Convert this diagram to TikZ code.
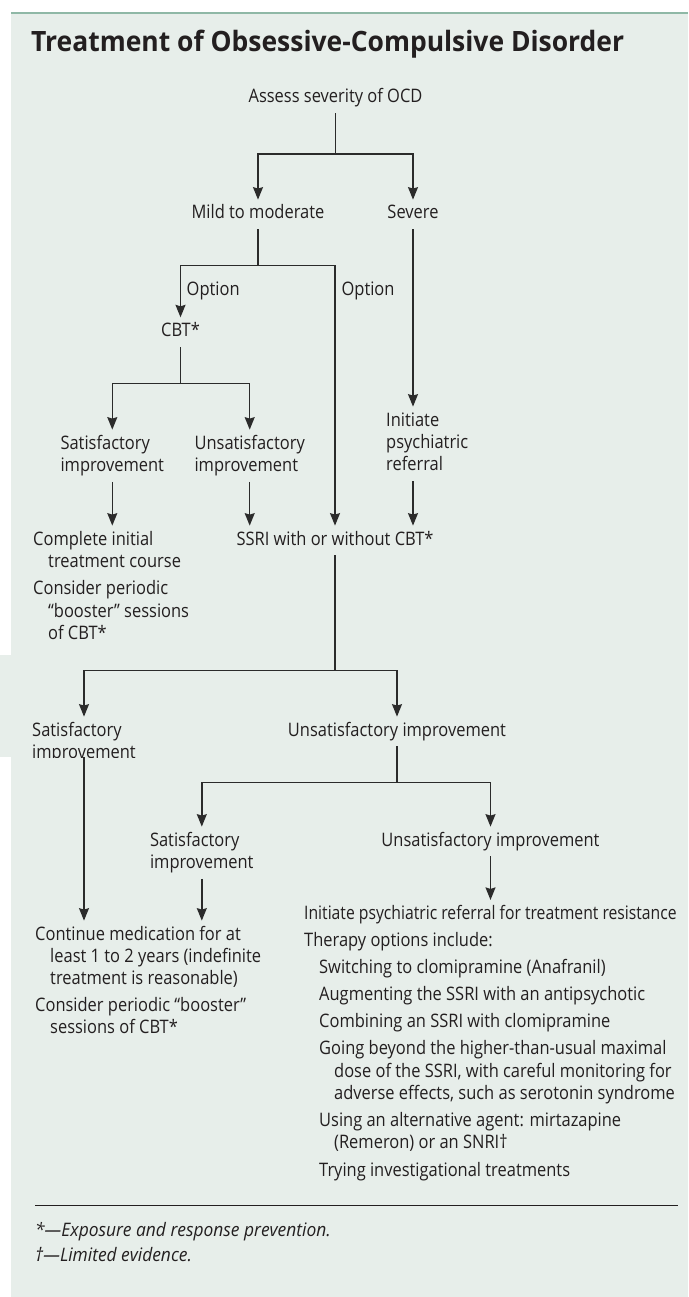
\documentclass[tikz,border=0pt]{standalone}
\usepackage{graphicx}
\usepackage{fontspec}
\setmainfont{Open Sans}[FakeStretch=0.885]
\newfontfamily\titlefont{Open Sans}[FakeStretch=0.945]
\newfontfamily\fnfont{Open Sans}[FakeStretch=0.935]
\usetikzlibrary{arrows.meta}
\definecolor{panel}{HTML}{E7EEEA}
\definecolor{topline}{HTML}{8FB8A6}
\definecolor{ink}{HTML}{231F20}
\definecolor{wire}{HTML}{2B2B2B}
\newcommand{\txtl}[1]{\begin{tabular}[t]{@{}l@{}}#1\end{tabular}}
\begin{document}
\begin{tikzpicture}[x=1pt,y=-1pt,
  txt/.style={inner xsep=0pt, inner ysep=3.5pt, text=ink, font=\fontsize{18.6}{22.4}\selectfont},
  wireline/.style={draw=wire, line width=1.4pt},
  arr/.style={wireline, -{Stealth[length=12.5pt,width=10pt,inset=1.5pt]}},
]
\useasboundingbox (0,0) rectangle (688,1297);
% panel
\fill[panel] (11,13.3) rectangle (688,1297);
\fill[panel] (0,655) rectangle (11,757);
\draw[topline, line width=2pt] (11,13.3) -- (688,13.3);

% title
\node[txt,anchor=base west,font=\titlefont\fontsize{28}{32}\selectfont\bfseries] (title) at (31,51.7) {Treatment of Obsessive-Compulsive Disorder};

% nodes
\node[txt,anchor=base] (assess) at (335.5,103) {\txtl{Assess severity of OCD}};
\node[txt,anchor=base] (mild) at (258,219) {\txtl{Mild to moderate}};
\node[txt,anchor=base] (severe) at (413,219) {\txtl{Severe}};
\node[txt,anchor=base west] (opt1) at (186.5,295) {\txtl{Option}};
\node[txt,anchor=base west] (opt2) at (341.4,295) {\txtl{Option}};
\node[txt,anchor=base] (cbt) at (180.5,336.7) {\txtl{CBT*}};
\node[txt,anchor=base] (sat1) at (112.3,449) {\txtl{Satisfactory\\improvement}};
\node[txt,anchor=base] (unsat1) at (249.7,449) {\txtl{Unsatisfactory\\improvement}};
\node[txt,anchor=base west] (init) at (386,426) {\txtl{Initiate\\psychiatric\\referral}};
\node[txt,anchor=base west] (complete) at (33,545) {\txtl{Complete initial\\\hspace*{15pt}treatment course\\[5pt]Consider periodic\\\hspace*{15pt}“booster” sessions\\\hspace*{15pt}of CBT*}};
\node[txt,anchor=base] (ssri) at (335,545) {\txtl{SSRI with or without CBT*}};
\begin{scope}
\clip (0,0) rectangle (688,757);
\node[txt,anchor=base] (sat2) at (84,736) {\txtl{Satisfactory\\improvement}};
\end{scope}
\node[txt,anchor=base] (unsat2) at (397,736) {\txtl{Unsatisfactory improvement}};
\node[txt,anchor=base] (sat3) at (201.8,846) {\txtl{Satisfactory\\improvement}};
\node[txt,anchor=base] (unsat3) at (490.5,846) {\txtl{Unsatisfactory improvement}};
\node[txt,anchor=base west] (cont) at (35,940) {\txtl{Continue medication for at\\\hspace*{15pt}least 1 to 2 years (indefinite\\\hspace*{15pt}treatment is reasonable)\\[4.3pt]Consider periodic “booster”\\\hspace*{15pt}sessions of CBT*}};
\node[txt,anchor=base west] (final) at (304,919.3) {\txtl{\scalebox{0.955}[1]{Initiate psychiatric referral for treatment resistance}\\[4.5pt]
Therapy options include:\\[4.7pt]
\hspace*{15pt}Switching to clomipramine (Anafranil)\\[4.7pt]
\hspace*{15pt}Augmenting the SSRI with an antipsychotic\\[4.7pt]
\hspace*{15pt}Combining an SSRI with clomipramine\\[4.7pt]
\hspace*{15pt}Going beyond the higher-than-usual maximal\\
\hspace*{30pt}dose of the SSRI, with careful monitoring for\\
\hspace*{30pt}adverse effects, such as serotonin syndrome\\[4.7pt]
\hspace*{15pt}Using an alternative agent: mirtazapine\\
\hspace*{30pt}(Remeron) or an SNRI†\\[4.7pt]
\hspace*{15pt}Trying investigational treatments}};

% footnotes
\draw[ink, line width=0.9pt] (35,1205) -- (678,1205);
\node[txt,anchor=base west,font=\fnfont\fontsize{18.6}{25}\selectfont\itshape] (fn) at (35,1236.7) {\txtl{*—Exposure and response prevention.\\†—Limited evidence.}};

% connectors
\coordinate (j1) at (335.5,154);
\draw[wireline] (assess.south) -- (j1);
\draw[arr] (j1) -| (mild.north);
\draw[arr] (j1) -| (severe.north);
\coordinate (j2) at (258,265.7);
\draw[wireline] (mild.south) -- (j2);
\draw[arr] (j2) -| (cbt.north);
\draw[arr] (j2) -| (ssri.north);
\draw[arr] (severe.south) -- (severe.south |- init.north);
\coordinate (j3) at (180.5,383.3);
\draw[wireline] (cbt.south) -- (j3);
\draw[arr] (j3) -| (sat1.north);
\draw[arr] (j3) -| (unsat1.north);
\draw[arr] (sat1.south) -- (sat1.south |- complete.north);
\draw[arr] (unsat1.south) -- (unsat1.south |- ssri.north);
\draw[arr] (init.south -| severe.south) -- (severe.south |- ssri.north);
\coordinate (j4) at (335,670.7);
\draw[wireline] (ssri.south) -- (j4);
\draw[arr] (j4) -| (sat2.north);
\draw[arr] (j4) -| (unsat2.north);
\coordinate (j5) at (397,782.7);
\draw[wireline] (unsat2.south) -- (j5);
\draw[arr] (j5) -| (sat3.north);
\draw[arr] (j5) -| (unsat3.north);
\coordinate (cut) at (84,757);
\draw[arr] (cut) -- (cut |- cont.north);
\draw[arr] (sat3.south) -- (sat3.south |- cont.north);
\draw[arr] (unsat3.south) -- (unsat3.south |- final.north);
\end{tikzpicture}
\end{document}
